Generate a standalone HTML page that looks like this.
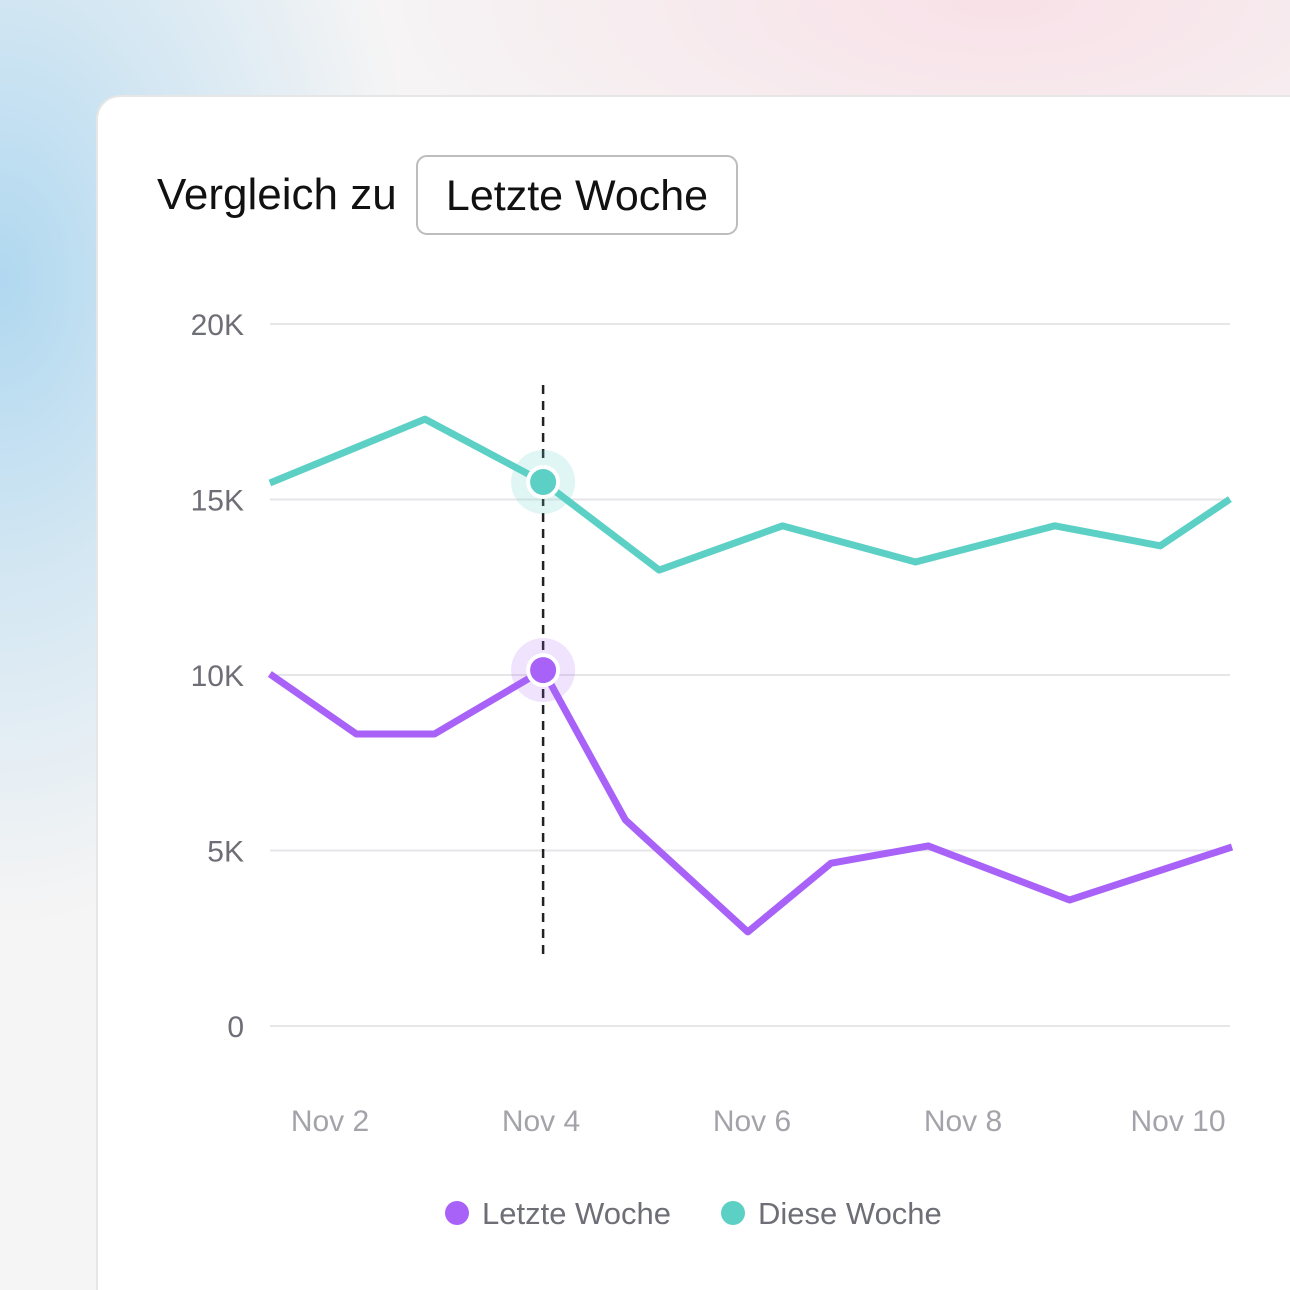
<!DOCTYPE html>
<html><head><meta charset="utf-8"><style>
html,body{margin:0;padding:0;width:1290px;height:1290px;overflow:hidden;font-family:"Liberation Sans",sans-serif}
#wrap{position:relative;width:1290px;height:1290px;overflow:hidden}
#bg{position:absolute;left:0;top:0;width:1290px;height:1290px;background:#f6f5f5}
#bg1{position:absolute;left:0;top:0;width:1290px;height:1290px;background:radial-gradient(ellipse 420px 650px at 0px 280px,rgba(176,216,240,1),rgba(176,216,240,0.5) 45%,rgba(176,216,240,0))}
#bg2{position:absolute;left:0;top:0;width:1290px;height:1290px;background:radial-gradient(ellipse 650px 260px at 1000px 0px,rgba(248,224,231,.95),rgba(248,224,231,0))}
#card{position:absolute;left:96px;top:95px;width:1194px;height:1195px;box-sizing:border-box;background:#fff;border-left:2px solid #e6e6e6;border-top:2px solid #e6e6e6;border-top-left-radius:24px}
svg{position:absolute;left:0;top:0}
</style></head><body>
<div id="wrap">
<div id="bg"></div>
<div id="bg1"></div>
<div id="bg2"></div>
<div id="card"></div>
<div style="position:absolute;left:157px;top:170px;font-size:44px;color:#111">Vergleich zu</div>
<div style="position:absolute;left:416px;top:155px;width:318px;height:76px;border:2px solid #bdbdbd;border-radius:11px;font-size:43px;color:#111;line-height:78px;text-align:center">Letzte Woche</div>
<svg id="chart" width="1290" height="1290"></svg>
</div>
<script>
const yTicks=[0,5000,10000,15000,20000];
const yTickLabels=["0","5K","10K","15K","20K"];
const xTicks=[2,4,6,8,10];
const xTickLabels=["Nov 2","Nov 4","Nov 6","Nov 8","Nov 10"];
const thisWeekX=[1.43,2.90,4.02,5.12,6.29,7.55,8.87,9.87,10.53];
const thisWeekY=[15470,17290,15500,12990,14250,13220,14250,13680,15010];
const lastWeekX=[1.43,2.25,2.99,4.02,4.80,5.96,6.75,7.67,9.01,10.55];
const lastWeekY=[10030,8320,8320,10140,5870,2680,4640,5130,3590,5100];
const hoverDay=4.02;
const svg=document.getElementById('chart');
const NS='http://www.w3.org/2000/svg';
const xs=d=>330+(d-2)*105.5;
const ys=v=>1026-v*(702/20000);
function mk(t,a){const e=document.createElementNS(NS,t);for(const k in a)e.setAttribute(k,a[k]);svg.appendChild(e);return e;}
yTicks.forEach((v,i)=>{
 const g=mk('line',{x1:270,x2:1230,y1:ys(v),y2:ys(v),stroke:'#e6e6e8','stroke-width':2});
 
 
 const t=mk('text',{x:244,y:ys(v)+11,'text-anchor':'end','font-size':30,fill:'#6e6e76','font-family':'Liberation Sans, sans-serif'});
 t.textContent=yTickLabels[i];
 
 
});
xTicks.forEach((d,i)=>{
 const t=mk('text',{x:xs(d)+(i==4?4:0),y:1131,'text-anchor':'middle','font-size':30,fill:'#a3a3aa','font-family':'Liberation Sans, sans-serif'});
 t.textContent=xTickLabels[i];
 
 
});
const hl=mk('line',{x1:xs(hoverDay),x2:xs(hoverDay),y1:385,y2:960,stroke:'#222','stroke-width':2.5,'stroke-dasharray':'9 7'});


function series(X,Y,col,name){
 const p=mk('polyline',{points:X.map((d,i)=>xs(d)+','+ys(Y[i])).join(' '),fill:'none',stroke:col,'stroke-width':7,'stroke-linejoin':'round'});
 
 
}
series(thisWeekX,thisWeekY,'#5dd0c6','line-diese-woche');
series(lastWeekX,lastWeekY,'#a862f7','line-letzte-woche');
function marker(X,Y,col,halo,name){
 const i=X.indexOf(hoverDay);
 const h=mk('circle',{cx:xs(X[i]),cy:ys(Y[i]),r:32,fill:halo});
 
 
 const c=mk('circle',{cx:xs(X[i]),cy:ys(Y[i]),r:15,fill:col,stroke:'#fff','stroke-width':4});
 
 
}
marker(thisWeekX,thisWeekY,'#5dd0c6','rgba(93,208,198,0.2)','marker-diese-woche');
marker(lastWeekX,lastWeekY,'#a862f7','rgba(168,98,247,0.18)','marker-letzte-woche');
[[457,'#a862f7','Letzte Woche','legend-letzte-woche'],[733,'#5dd0c6','Diese Woche','legend-diese-woche']].forEach(l=>{
 const c=mk('circle',{cx:l[0],cy:1213,r:12,fill:l[1]});
 
 
 const t=mk('text',{x:l[0]+25,y:1224,'font-size':31,fill:'#6e6e76','font-family':'Liberation Sans, sans-serif'});
 t.textContent=l[2];
 
 
});
</script>
</body></html>
